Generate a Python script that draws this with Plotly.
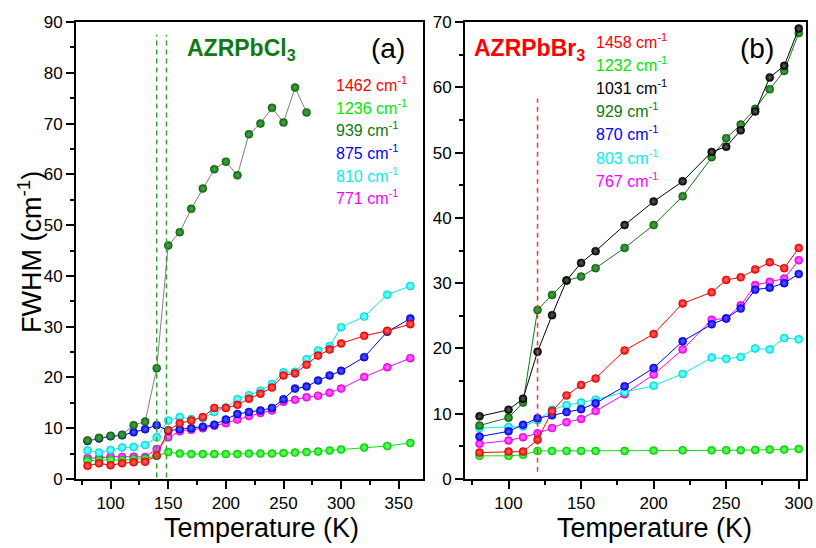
import plotly.graph_objects as go

# ---------------- data ----------------
T_a = [80, 90, 100, 110, 120, 130, 140, 150, 160, 170, 180, 190, 200, 210, 220,
       230, 240, 250, 260, 270, 280, 290, 300, 320, 340, 360]
T_a_939 = [80, 90, 100, 110, 120, 130, 140, 150, 160, 170, 180, 190, 200, 210, 220,
           230, 240, 250, 260, 270]
a_1462 = [2.6, 3.1, 2.7, 3.1, 3.3, 3.4, 4.6, 9.6, 11.0, 11.5, 12.2, 14.0, 14.0, 14.6, 15.8,
          16.8, 18.0, 20.4, 20.8, 22.5, 24.3, 25.5, 26.7, 28.2, 29.2, 30.5]
a_1236 = [3.6, 3.7, 3.8, 3.7, 3.9, 4.0, 4.6, 5.3, 5.0, 4.9, 4.9, 4.9, 4.9, 4.9, 5.0,
          5.0, 5.0, 5.1, 5.2, 5.3, 5.4, 5.6, 5.8, 6.2, 6.5, 7.1]
a_939 = [7.6, 8.1, 8.5, 8.7, 10.6, 11.3, 21.8, 46.0, 48.6, 53.2, 57.2, 61.0, 62.5, 59.8,
         67.9, 70.0, 73.1, 70.2, 77.1, 72.2]
a_875 = [7.5, 8.0, 8.4, 8.6, 9.2, 9.8, 10.6, 9.5, 9.8, 10.0, 10.3, 10.7, 11.7, 12.8, 13.2,
         13.5, 14.0, 15.7, 17.8, 18.2, 19.4, 20.4, 21.3, 24.0, 29.0, 31.6]
a_810 = [5.6, 5.2, 5.7, 6.2, 6.3, 6.7, 8.2, 11.5, 12.2, 11.8, 12.0, 13.2, 14.1, 15.7, 16.5,
         17.4, 18.7, 21.0, 21.1, 23.6, 25.3, 26.2, 29.9, 32.0, 36.3, 38.0]
a_771 = [4.1, 4.15, 4.4, 4.35, 4.4, 4.35, 5.9, 8.2, 9.4, 9.7, 10.0, 10.5, 11.0, 11.7, 12.4,
         13.0, 13.5, 15.2, 15.6, 16.1, 16.4, 17.0, 17.8, 20.1, 22.0, 23.8]

T_b = [80, 100, 110, 120, 130, 140, 150, 160, 180, 200, 220, 240, 250, 260, 270, 280, 290, 300]
b_1458 = [4.05, 4.2, 4.2, 6.0, 10.4, 12.8, 14.4, 15.4, 19.7, 22.2, 26.9, 28.6, 30.5, 30.9,
          32.1, 33.2, 32.3, 35.4]
b_1232 = [3.55, 3.55, 3.7, 4.3, 4.3, 4.3, 4.3, 4.3, 4.3, 4.35, 4.4, 4.4, 4.4, 4.4, 4.45,
          4.5, 4.5, 4.6]
b_1031 = [9.6, 10.6, 12.3, 19.5, 25.1, 30.4, 33.1, 34.9, 38.9, 42.5, 45.6, 50.1, 50.9, 53.4,
          56.3, 61.5, 63.3, 69.0]
b_929 = [8.2, 9.4, 11.7, 25.9, 28.2, 30.4, 31.0, 32.3, 35.4, 38.9, 43.3, 49.3, 52.2, 54.3,
         56.7, 59.7, 62.5, 68.3]
b_870 = [6.5, 7.3, 8.3, 9.3, 9.75, 10.25, 10.7, 11.6, 14.2, 17.0, 21.1, 23.7, 24.6, 26.1,
         29.0, 29.3, 30.0, 31.4]
b_803 = [7.8, 7.95, 8.05, 9.0, 10.6, 11.3, 11.7, 12.15, 13.3, 14.3, 16.1, 18.6, 18.4, 18.7,
         20.0, 19.85, 21.6, 21.4]
b_767 = [5.4, 5.9, 6.4, 7.0, 7.8, 8.7, 9.2, 10.4, 13.0, 16.0, 19.85, 24.4, 24.6, 26.6, 29.7,
         30.2, 30.7, 33.5]

labels_a = ["1462", "1236", "939", "875", "810", "771"]
labels_b = ["1458", "1232", "1031", "929", "870", "803", "767"]
trans_a = [140, 148.5]
trans_b = [120]

# ---------------- style ----------------
RED, LIME, DKG, BLUE, CYAN, MAG, BLK = "#ff0000", "#00e600", "#107a10", "#0000ff", "#00f0f0", "#ff00ff", "#000000"
LIGHT = {RED: "#ff7070", LIME: "#80ff80", DKG: "#50a050", BLUE: "#6060ff",
         CYAN: "#a0ffff", MAG: "#ff80ff", BLK: "#606060"}
EDGE = {RED: "#b00000", LIME: "#00a000", DKG: "#004000", BLUE: "#0000a0",
        CYAN: "#00b0b0", MAG: "#b000b0", BLK: "#000000"}
FONT = "Arial, Liberation Sans, sans-serif"

W, H = 816, 548
L_S, R_S, T_S, B_S = 76, 806, 22, 479   # plot box in pixels
margin = dict(l=L_S, r=W - R_S, t=T_S, b=H - B_S)
PW, PH = R_S - L_S, B_S - T_S


def px(x):
    return (x - L_S) / PW


def py(y):
    return (B_S - y) / PH


fig = go.Figure()


def add(x, y, color, axis, line_color=None):
    fig.add_trace(go.Scatter(
        x=x, y=y, mode="lines+markers", xaxis="x" + axis, yaxis="y" + axis,
        line=dict(color=line_color or color, width=1),
        marker=dict(size=8, color=color,
                    gradient=dict(type="radial", color=LIGHT[color]),
                    line=dict(color=EDGE[color], width=0.5)),
        showlegend=False, hoverinfo="skip"))


add(T_a, a_771, MAG, "")
add(T_a, a_810, CYAN, "")
add(T_a, a_875, BLUE, "")
add(T_a_939, a_939, DKG, "", "#808080")
add(T_a, a_1236, LIME, "")
add(T_a, a_1462, RED, "")

add(T_b, b_767, MAG, "2")
add(T_b, b_803, CYAN, "2")
add(T_b, b_870, BLUE, "2")
add(T_b, b_929, DKG, "2")
add(T_b, b_1031, BLK, "2")
add(T_b, b_1232, LIME, "2")
add(T_b, b_1458, RED, "2")

shapes = []
for t in trans_a:
    shapes.append(dict(type="line", xref="x", yref="y", x0=t, x1=t, y0=0.3, y1=87.5,
                       line=dict(color="#30a030", width=1.5, dash="5px,4px")))
for t in trans_b:
    shapes.append(dict(type="line", xref="x2", yref="y2", x0=t, x1=t, y0=1.1, y1=58.3,
                       line=dict(color="#ff3030", width=1.5, dash="5px,4px")))

ax_common = dict(showline=True, linewidth=2, linecolor="black", mirror=True,
                 ticks="outside", ticklen=8, tickwidth=1.5, tickcolor="black",
                 showgrid=False, zeroline=False, automargin=False,
                 tickfont=dict(family=FONT, size=17, color="black"))
minor_style = dict(ticks="outside", ticklen=4, tickwidth=1.5, tickcolor="black")

fig.update_layout(
    template="none",
    width=W, height=H, margin=margin, autosize=False,
    paper_bgcolor="white", plot_bgcolor="white",
    xaxis=dict(domain=[0, px(423)], range=[70, 371], tickmode="linear", tick0=0, dtick=50,
               minor=dict(dtick=25, **minor_style), anchor="y", **ax_common),
    yaxis=dict(range=[0, 90], tickmode="linear", tick0=0, dtick=10,
               minor=dict(dtick=5, **minor_style), anchor="x", **ax_common),
    xaxis2=dict(domain=[px(465), 1], range=[70, 305], tickmode="linear", tick0=0, dtick=50,
                minor=dict(dtick=25, **minor_style), anchor="y2", **ax_common),
    yaxis2=dict(range=[0, 70], tickmode="linear", tick0=0, dtick=10,
                minor=dict(dtick=5, **minor_style), anchor="x2", **ax_common),
    shapes=shapes,
)

ann = []


def text(x, y, s, size, color="black", bold=False, xanchor="left", angle=0):
    ann.append(dict(xref="paper", yref="paper", x=px(x), y=py(y), text=s, showarrow=False,
                    xanchor=xanchor, yanchor="middle", textangle=angle,
                    font=dict(family=FONT, size=size, color=color,
                              weight="bold" if bold else "normal")))


text(30, 252, "FWHM (cm<sup>-1</sup>)", 27, xanchor="center", angle=-90)
text(261, 528, "Temperature (K)", 27, xanchor="center")
text(654, 528, "Temperature (K)", 27, xanchor="center")

text(185, 50, "AZRPbCl<sub>3</sub>", 23, DKG, bold=True)
text(388, 48, "(a)", 28, xanchor="center")
text(472, 50, "AZRPbBr<sub>3</sub>", 23, RED, bold=True)
text(757, 48, "(b)", 28, xanchor="center")

cols_a = [RED, LIME, DKG, BLUE, CYAN, MAG]
ys_a = [84, 106.7, 129.3, 152, 174.7, 197.4]
for lab, c, y in zip(labels_a, cols_a, ys_a):
    text(334, y, lab + " cm<sup>-1</sup>", 16, c)

cols_b = [RED, LIME, BLK, DKG, BLUE, CYAN, MAG]
ys_b = [40.5, 63.7, 86.9, 110.1, 133.3, 156.5, 179.7]
for lab, c, y in zip(labels_b, cols_b, ys_b):
    text(594, y, lab + " cm<sup>-1</sup>", 16, c)

fig.update_layout(annotations=ann)
# remove the default 8 px page margin so the 816x548 figure fills the window exactly
fig.write_html("out.html", config={"displayModeBar": False},
               post_script="document.body.style.margin='0';document.body.style.overflow='hidden';")
